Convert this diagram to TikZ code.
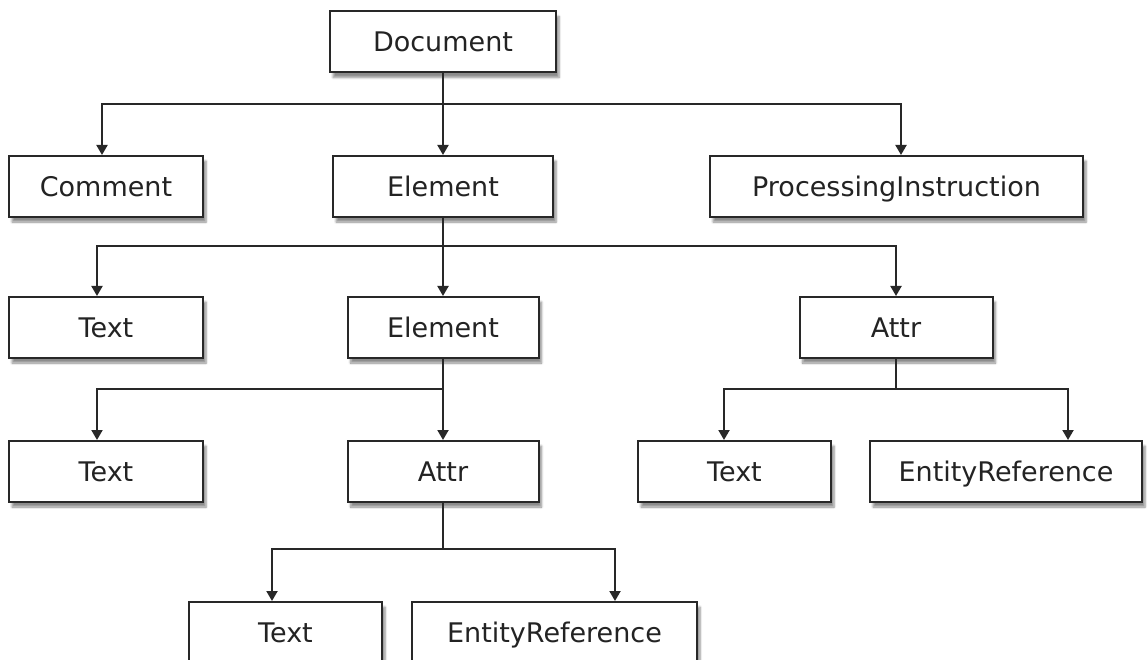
\documentclass[tikz,border=0pt]{standalone}
\usepackage{fontspec}
\setmainfont{DejaVu Sans}
\usetikzlibrary{arrows.meta,shadows.blur}
\definecolor{domline}{RGB}{40,40,40}
\definecolor{domtext}{RGB}{35,35,35}

\begin{document}
\begin{tikzpicture}[x=1pt, y=-1pt,
      domnode/.style={draw=domline, line width=2pt, fill=white, minimum height=61pt, inner sep=0pt, text height=19.5pt, text depth=0pt, text=domtext, font=\fontsize{27}{32}\selectfont, blur shadow={shadow xshift=3pt, shadow yshift=-5pt, shadow blur steps=6, shadow opacity=45}},
      link/.style={draw=domline, line width=2pt, -{Triangle[width=11pt,length=10pt]}}
    ]
      \clip (0,0) rectangle (1148,660);

      % Root and its children
      \node[domnode, minimum width=226pt] (doc) at (443,42) {Document};
      \node[domnode, minimum width=194pt] (comment) at (106,186.5) {Comment};
      \node[domnode, minimum width=220pt] (elemA) at (443,186.5) {Element};
      \node[domnode, minimum width=373pt] (procinstr) at (896.5,186.5) {ProcessingInstruction};

      % Children of the first Element
      \node[domnode, minimum width=194pt] (textA) at (106,327.5) {Text};
      \node[domnode, minimum width=191pt] (elemB) at (443,327.5) {Element};
      \node[domnode, minimum width=193pt] (attrA) at (896,327.5) {Attr};

      % Children of the second Element and of the first Attr
      \node[domnode, minimum width=194pt] (textB) at (106,471.5) {Text};
      \node[domnode, minimum width=191pt] (attrB) at (443,471.5) {Attr};
      \node[domnode, minimum width=193pt] (textC) at (734.5,471.5) {Text};
      \node[domnode, minimum width=272pt] (entrefA) at (1006,471.5) {EntityReference};

      % Children of the second Attr
      \node[domnode, minimum width=193pt] (textD) at (285.5,632.5) {Text};
      \node[domnode, minimum width=285pt] (entrefB) at (554.5,632.5) {EntityReference};

      \draw[link] (doc.south) -- ++(0,31) -| ([xshift=-4pt]comment.north);
      \draw[link] (doc.south) -- (elemA.north);
      \draw[link] (doc.south) -- ++(0,31) -| ([xshift=4.5pt]procinstr.north);

      \draw[link] (elemA.south) -- ++(0,28) -| ([xshift=-9pt]textA.north);
      \draw[link] (elemA.south) -- (elemB.north);
      \draw[link] (elemA.south) -- ++(0,28) -| (attrA.north);

      \draw[link] (elemB.south) -- ++(0,30) -| ([xshift=-9pt]textB.north);
      \draw[link] (elemB.south) -- (attrB.north);

      \draw[link] (attrA.south) -- ++(0,30) -| ([xshift=-10.5pt]textC.north);
      \draw[link] (attrA.south) -- ++(0,30) -| ([xshift=62pt]entrefA.north);

      \draw[link] (attrB.south) -- ++(0,46) -| ([xshift=-13.5pt]textD.north);
      \draw[link] (attrB.south) -- ++(0,46) -| ([xshift=60.5pt]entrefB.north);
    \end{tikzpicture}
\end{document}
